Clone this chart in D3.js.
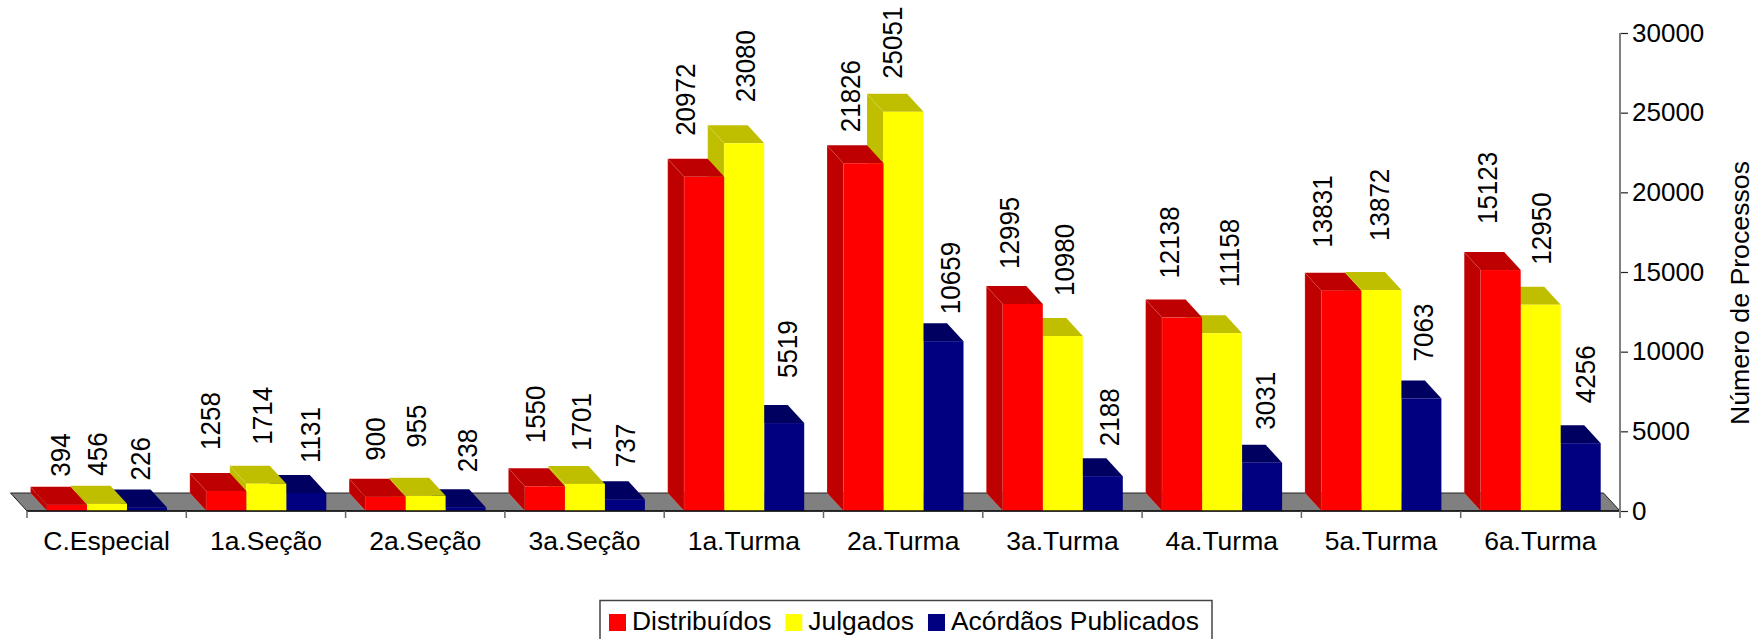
<!DOCTYPE html>
<html>
<head>
<meta charset="utf-8">
<script src="https://cdn.jsdelivr.net/npm/d3@7"></script>
<style>
    body { margin: 0; background: #fff; }
    text { font-family: "Liberation Sans", sans-serif; font-size: 26px; fill: #000; }
</style>
</head>
<body>
<script>
const categories = ["C.Especial", "1a.Seção", "2a.Seção", "3a.Seção", "1a.Turma", "2a.Turma", "3a.Turma", "4a.Turma", "5a.Turma", "6a.Turma"];
const distribuidos = [394, 1258, 900, 1550, 20972, 21826, 12995, 12138, 13831, 15123];
const julgados = [456, 1714, 955, 1701, 23080, 25051, 10980, 11158, 13872, 12950];
const acordaos = [226, 1131, 238, 737, 5519, 10659, 2188, 3031, 7063, 4256];
const seriesNames = ["Distribuídos", "Julgados", "Acórdãos Publicados"];
const yTicks = [0, 5000, 10000, 15000, 20000, 25000, 30000];

// colours per series: front, dark (top and side)
const frontColors = ["#ff0000", "#ffff00", "#000080"];
const darkColors = ["#bf0000", "#bfbf00", "#000060"];

// the value labels were placed by hand in the original
const labelShift = [
    [13, 4, 9, 10, 1, 6, 6, 7, 1, 6],
    [10, 16, 10, 16, 21, 8, 21, 27, 18, 20],
    [13, 24, 21, 20, 23, 26, 26, 23, 22, 24]
];
const labelGap = [
    [10, 23, 18, 25, 23, 13, 17, 21, 25, 28],
    [10, 21, 30, 15, 23, 15, 22, 28, 31, 22],
    [9, 12, 17, 14, 27, 9, 12, 15, 19, 22]
];

const width = 1757, height = 639;
const y0 = 511, yTop = 33, xLeft = 27, xRight = 1620;
const depthX = 16.5, depthY = 18;
const allSeries = [distribuidos, julgados, acordaos];

const svg = d3.select("body").append("svg")
    .attr("width", width)
    .attr("height", height)
    .style("display", "block");

const x = d3.scaleBand().domain(categories).range([xLeft, xRight]);
const inner = d3.scaleBand().domain(d3.range(3)).range([20, 140]);
const y = d3.scaleLinear().domain([0, 30000]).range([y0, yTop]);

// floor
svg.append("polygon")
    .attr("points", [[xLeft, y0], [xLeft - depthX, y0 - depthY], [xRight - depthX, y0 - depthY], [xRight, y0]].join(" "))
    .attr("fill", "#808080")
    .attr("stroke", "#222")
    .attr("stroke-width", 1);

// bars, blue first so that the red front hides what stands behind it
const bars = svg.append("g");
categories.forEach((cat, c) => {
    d3.range(2, -1, -1).forEach(s => {
        const left = x(cat) + inner(s);
        const right = left + inner.bandwidth();
        const top = y(allSeries[s][c]);
        const g = bars.append("g");
        g.append("polygon")
            .attr("points", [[left, y0], [left - depthX, y0 - depthY], [left - depthX, top - depthY], [left, top]].join(" "))
            .attr("fill", darkColors[s])
            .attr("stroke", "#fff")
            .attr("stroke-opacity", 0.3)
            .attr("stroke-width", 0.6);
        g.append("polygon")
            .attr("points", [[left, top], [left - depthX, top - depthY], [right - depthX, top - depthY], [right, top]].join(" "))
            .attr("fill", darkColors[s]);
        g.append("rect")
            .attr("x", left)
            .attr("y", top)
            .attr("width", inner.bandwidth())
            .attr("height", y0 - top)
            .attr("fill", frontColors[s]);
    });
});

// base line and category axis
svg.append("line")
    .attr("x1", xLeft).attr("x2", xRight)
    .attr("y1", y0).attr("y2", y0)
    .attr("stroke", "#111")
    .attr("stroke-width", 1.5);

const xAxis = svg.append("g")
    .attr("transform", "translate(0," + y0 + ")")
    .call(d3.axisBottom(x).tickSize(0).tickPadding(20));
xAxis.select(".domain").remove();
xAxis.selectAll("text").style("font-size", "26.5px").attr("font-family", null).attr("dy", "0.71em");

svg.append("g").selectAll("line")
    .data(categories.map(d => x(d)).concat([xRight]))
    .enter()
    .append("line")
    .attr("x1", d => d).attr("x2", d => d)
    .attr("y1", y0).attr("y2", y0 + 7)
    .attr("stroke", "#666")
    .attr("stroke-width", 1.5);

// value axis
const yAxis = svg.append("g")
    .attr("transform", "translate(" + xRight + ",0)")
    .call(d3.axisRight(y).tickValues(yTicks).tickFormat(d3.format("d")).tickSize(8).tickPadding(4));
yAxis.select(".domain").remove();
yAxis.selectAll(".tick line").attr("stroke", "#222").attr("stroke-width", 1.2);
yAxis.selectAll("text").style("font-size", "26px").attr("font-family", null);

svg.append("line")
    .attr("x1", xRight).attr("x2", xRight)
    .attr("y1", yTop).attr("y2", y0 + 7)
    .attr("stroke", "#808080")
    .attr("stroke-width", 2);

svg.append("text")
    .attr("transform", "translate(1749,293) rotate(-90)")
    .attr("text-anchor", "middle")
    .style("font-size", "26.7px")
    .text("Número de Processos");

// value labels, the rotated digits are a bit taller in the original
categories.forEach((cat, c) => {
    allSeries.forEach((values, s) => {
        const cx = x(cat) + inner(s) + labelShift[s][c];
        const bottom = y(values[c]) - depthY - labelGap[s][c];
        svg.append("text")
            .attr("transform", "translate(" + (cx + 10) + "," + bottom + ") rotate(-90) scale(1,1.08)")
            .text(values[c]);
    });
});

// legend, cut off by the bottom of the picture like the original
const legendLeft = 600, legendTop = 600.5, legendRight = 1212;
svg.append("rect")
    .attr("x", legendLeft)
    .attr("y", legendTop)
    .attr("width", legendRight - legendLeft)
    .attr("height", 60)
    .attr("fill", "#fff")
    .attr("stroke", "#444")
    .attr("stroke-width", 1.5);

let legendX = 609;
seriesNames.forEach((name, s) => {
    svg.append("rect")
        .attr("x", legendX)
        .attr("y", 614)
        .attr("width", 17)
        .attr("height", 17)
        .attr("fill", frontColors[s]);
    const label = svg.append("text")
        .attr("x", legendX + 23)
        .attr("y", 630)
        .style("font-size", "26.4px")
        .text(name);
    legendX += 23 + label.node().getComputedTextLength() + 14;
});
</script>
</body>
</html>
